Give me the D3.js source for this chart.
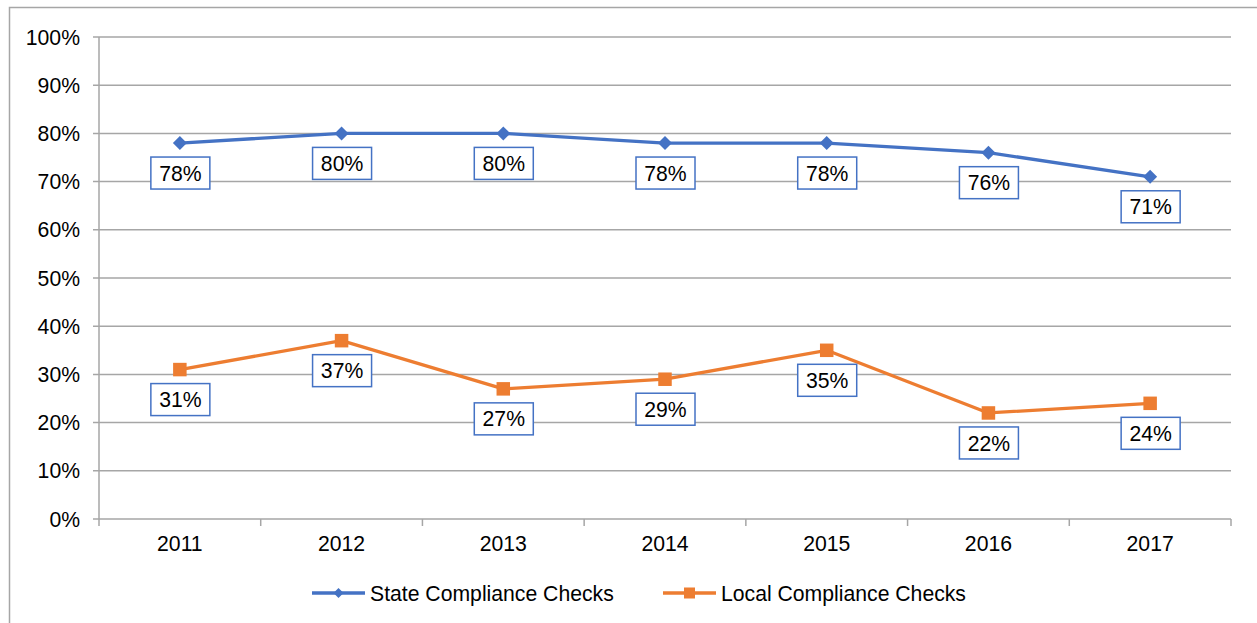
<!DOCTYPE html>
<html>
<head>
<meta charset="utf-8">
<script src="https://cdn.jsdelivr.net/npm/d3@7"></script>
<style>
  html, body { margin: 0; padding: 0; background: #fff; }
  svg { display: block; }
  text { font-family: "Liberation Sans", Arial, sans-serif; fill: #000; }
</style>
</head>
<body>
<svg id="chart" width="1257" height="623"></svg>
<script>
// Compliance check rates by year
const years = ["2011", "2012", "2013", "2014", "2015", "2016", "2017"];
const stateValues = [78, 80, 80, 78, 78, 76, 71];
const localValues = [31, 37, 27, 29, 35, 22, 24];
const yTicks = [0, 10, 20, 30, 40, 50, 60, 70, 80, 90, 100];
const seriesNames = ["State Compliance Checks", "Local Compliance Checks"];
const seriesColors = ["#4472C4", "#ED7D31"];

const svg = d3.select("#chart");
const W = 1257, H = 623;
const plot = { left: 99, right: 1231, top: 37, bottom: 519 };
const fontSize = 21.2;
const gridColor = "#a6a6a6";

// Outer chart frame (left and top edges)
svg.append("path")
  .attr("d", `M9.5,${H} L9.5,7.5 L${W},7.5`)
  .attr("fill", "none")
  .attr("stroke", gridColor)
  .attr("stroke-width", 1.5);

const x = d3.scaleBand().domain(years).range([plot.left, plot.right]).padding(0);
const y = d3.scaleLinear().domain([0, 100]).range([plot.bottom, plot.top]);

// Horizontal gridlines
svg.append("g")
  .selectAll("line")
  .data(yTicks)
  .join("line")
  .attr("x1", plot.left - 6)
  .attr("x2", plot.right)
  .attr("y1", d => y(d))
  .attr("y2", d => y(d))
  .attr("stroke", gridColor)
  .attr("stroke-width", 1.5);

// Y axis line
svg.append("line")
  .attr("x1", plot.left).attr("x2", plot.left)
  .attr("y1", plot.top).attr("y2", plot.bottom)
  .attr("stroke", gridColor).attr("stroke-width", 1.5);

// Y axis labels
svg.append("g")
  .selectAll("text")
  .data(yTicks)
  .join("text")
  .attr("x", plot.left - 19)
  .attr("y", d => y(d))
  .attr("dy", "0.36em")
  .attr("text-anchor", "end")
  .style("font-size", fontSize + "px")
  .text(d => d + "%");

// X axis category boundary ticks
const boundaries = years.map(d => x(d)).concat([plot.right]);
svg.append("g")
  .selectAll("line")
  .data(boundaries)
  .join("line")
  .attr("x1", d => d).attr("x2", d => d)
  .attr("y1", plot.bottom).attr("y2", plot.bottom + 7)
  .attr("stroke", gridColor).attr("stroke-width", 1.5);

// X axis labels
svg.append("g")
  .selectAll("text")
  .data(years)
  .join("text")
  .attr("x", d => x(d) + x.bandwidth() / 2)
  .attr("y", 551)
  .attr("text-anchor", "middle")
  .style("font-size", fontSize + "px")
  .text(d => d);

const cx = d => x(d) + x.bandwidth() / 2;
const line = d3.line().x(d => cx(d.year)).y(d => y(d.value));

const series = [
  { name: seriesNames[0], color: seriesColors[0], marker: "diamond", values: years.map((yr, i) => ({ year: yr, value: stateValues[i] })) },
  { name: seriesNames[1], color: seriesColors[1], marker: "square", values: years.map((yr, i) => ({ year: yr, value: localValues[i] })) }
];

function drawMarker(g, type, px, py, size, color) {
  if (type === "diamond") {
    const h = size / 2;
    g.append("path")
      .attr("d", `M${px},${py - h} L${px + h},${py} L${px},${py + h} L${px - h},${py} Z`)
      .attr("fill", color);
  } else {
    g.append("rect")
      .attr("x", px - size / 2).attr("y", py - size / 2)
      .attr("width", size).attr("height", size)
      .attr("fill", color);
  }
}

series.forEach(s => {
  const g = svg.append("g");
  g.append("path")
    .datum(s.values)
    .attr("d", line)
    .attr("fill", "none")
    .attr("stroke", s.color)
    .attr("stroke-width", 3.3)
    .attr("stroke-linejoin", "round");
  s.values.forEach(d => {
    drawMarker(g, s.marker, cx(d.year), y(d.value), s.marker === "diamond" ? 14 : 13.5, s.color);
  });
});

// Data labels in boxed callouts beneath each point
series.forEach(s => {
  const g = svg.append("g");
  s.values.forEach(d => {
    const px = cx(d.year), py = y(d.value);
    const bw = 59, bh = 32;
    const top = py + 14;
    g.append("rect")
      .attr("x", px - bw / 2 + 0.5).attr("y", top)
      .attr("width", bw).attr("height", bh)
      .attr("fill", "#fff")
      .attr("stroke", "#4472C4")
      .attr("stroke-width", 1.5);
    g.append("text")
      .attr("x", px + 0.5)
      .attr("y", top + bh / 2)
      .attr("dy", "0.36em")
      .attr("text-anchor", "middle")
      .style("font-size", fontSize + "px")
      .text(d.value + "%");
  });
});

// Legend
const legendItems = [
  { x0: 312, s: series[0] },
  { x0: 663, s: series[1] }
];
const ly = 593;
legendItems.forEach(item => {
  const g = svg.append("g");
  g.append("line")
    .attr("x1", item.x0).attr("x2", item.x0 + 53)
    .attr("y1", ly).attr("y2", ly)
    .attr("stroke", item.s.color).attr("stroke-width", 3.3);
  drawMarker(g, item.s.marker, item.x0 + 26.5, ly, item.s.marker === "diamond" ? 10 : 11, item.s.color);
  g.append("text")
    .attr("x", item.x0 + 58)
    .attr("y", ly)
    .attr("dy", "0.36em")
    .style("font-size", fontSize + "px")
    .text(item.s.name);
});
</script>
</body>
</html>
